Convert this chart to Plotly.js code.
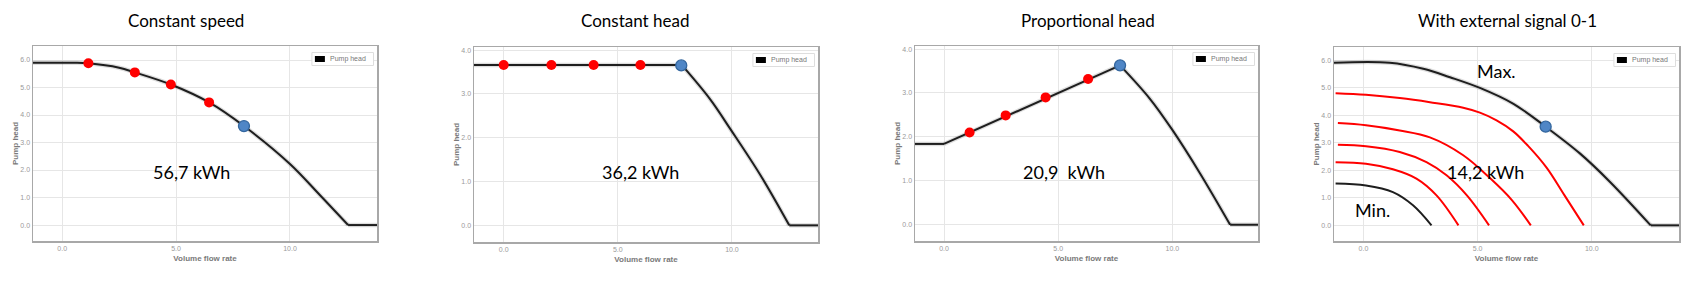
<!DOCTYPE html>
<html>
<head>
<meta charset="utf-8">
<script src="https://cdn.plot.ly/plotly-3.0.1.min.js"></script>
<style>html,body{margin:0;padding:0;background:#fff;}#chart{width:1688px;height:281px;}</style>
</head>
<body>
<div id="chart"></div>
<script>
// ---------- data ----------
const panelTitles = ["Constant speed", "Constant head", "Proportional head", "With external signal 0-1"];
const energyLabels = ["56,7 kWh", "36,2 kWh", "20,9  kWh", "14,2 kWh"];
const seriesName = "Pump head";
const xTitle = "Volume flow rate";
const yTitle = "Pump head";
const xTicks = [0, 5, 10];

// Panel 1: constant speed
const speedFlow = [-1.28, 0.5, 1.15, 2.5, 3.19, 4.77, 6.45, 7.98, 10.0, 11.3, 12.55, 13.82];
const speedHead = [5.9, 5.9, 5.88, 5.72, 5.55, 5.11, 4.46, 3.6, 2.22, 1.1, 0, 0];
const speedOpFlow = [1.15, 3.19, 4.77, 6.45];
const speedOpHead = [5.88, 5.55, 5.11, 4.46];
const speedDutyFlow = [7.98];
const speedDutyHead = [3.6];

// Panel 2: constant head
const constFlow = [-1.3, 7.8, 9.04, 9.94, 11.23, 12.51, 13.77];
const constHead = [3.66, 3.66, 2.88, 2.19, 1.16, 0, 0];
const constOpFlow = [0, 2.09, 3.94, 5.99];
const constOpHead = [3.66, 3.66, 3.66, 3.66];
const constDutyFlow = [7.78];
const constDutyHead = [3.65];

// Panel 3: proportional head
const propFlow = [-1.27, 0, 7.71, 9.0, 10.0, 11.2, 12.53, 13.75];
const propHead = [1.84, 1.84, 3.63, 2.88, 2.16, 1.18, 0, 0];
const propOpFlow = [1.12, 2.7, 4.45, 6.31];
const propOpHead = [2.1, 2.49, 2.9, 3.32];
const propDutyFlow = [7.71];
const propDutyHead = [3.63];

// Panel 4: external signal
const maxFlow = [-1.29, 1.15, 2.62, 3.79, 5.1, 6.57, 7.98, 9.49, 10.8, 12.58, 13.82];
const maxHead = [5.92, 5.92, 5.7, 5.39, 5.0, 4.42, 3.59, 2.61, 1.58, 0, 0];
const sig1Flow = [-1.22, 0.11, 1.59, 2.91, 4.37, 5.1, 5.83, 6.56, 7.2, 8.02, 8.8, 9.65];
const sig1Head = [4.81, 4.75, 4.63, 4.48, 4.28, 4.1, 3.82, 3.42, 2.9, 2.1, 1.1, 0];
const sig2Flow = [-1.12, 0.11, 1.59, 2.91, 4.37, 5.54, 6.5, 7.33];
const sig2Head = [3.72, 3.64, 3.45, 3.2, 2.55, 1.72, 0.92, 0];
const sig3Flow = [-1.12, 0.11, 1.59, 2.76, 3.64, 4.53, 5.5];
const sig3Head = [2.93, 2.88, 2.67, 2.3, 1.82, 1.09, 0];
const sig4Flow = [-1.22, 0.11, 1.29, 2.32, 3.2, 4.16];
const sig4Head = [2.30, 2.24, 2.04, 1.70, 1.09, 0];
const minFlow = [-1.22, 0.11, 1.29, 2.17, 2.98];
const minHead = [1.52, 1.45, 1.21, 0.73, 0];
const ext4DutyFlow = [7.98];
const ext4DutyHead = [3.59];

// indices where a curve has a sharp corner (segments between them are drawn separately)
const speedCorners = [10];
const constCorners = [1, 5];
const propCorners = [1, 2, 6];
const maxCorners = [9];

// ---------- layout helpers ----------
const W = 1688, H = 281;
const px = v => v / W;
const py = v => 1 - v / H;

// plot frames in pixels: [left, right, top, bottom]
const frames = [[33, 377, 46, 241], [474, 818, 47, 242], [915, 1258, 46, 241], [1334, 1679, 47, 241]];
const xRanges = [[-1.28, 13.82], [-1.30, 13.77], [-1.27, 13.75], [-1.29, 13.82]];
const yRanges = [[-0.58, 6.51], [-0.38, 4.07], [-0.37, 4.07], [-0.57, 6.49]];
const titlePos = [[186.3, 21], [635.3, 21], [1088, 21], [1507.7, 21]];
const energyPos = [[191.3, 172], [640, 172], [1064, 172], [1485.7, 172]];

const BLACK = "#1e1e1e", RED = "#ff0000", BLUE = "#4f86c6", BLUE_EDGE = "#34679f";

function axName(i) { return i === 0 ? "" : String(i + 1); }

// draw one series as smooth pieces split at its corners
function curve(x, y, i, color, width, shadow, corners) {
  const ax = axName(i);
  const cuts = [0].concat(corners || []).concat([x.length - 1]);
  const out = [];
  const layers = shadow ? ["shadow", "main"] : ["main"];
  layers.forEach(layer => {
    for (let k = 0; k < cuts.length - 1; k++) {
      const xs = x.slice(cuts[k], cuts[k + 1] + 1);
      const ys = y.slice(cuts[k], cuts[k + 1] + 1);
      const shape = xs.length > 2 ? "spline" : "linear";
      out.push({x: xs, y: ys, xaxis: "x" + ax, yaxis: "y" + ax, type: "scatter", mode: "lines",
        name: seriesName, hoverinfo: layer === "shadow" ? "skip" : "x+y",
        line: layer === "shadow"
          ? {color: "rgba(0,0,0,0.13)", width: 4.5, shape: shape, smoothing: 1}
          : {color: color, width: width, shape: shape, smoothing: 1},
        showlegend: false});
    }
  });
  return out;
}
function pts(x, y, i, color, size, edge) {
  const ax = axName(i);
  return {x: x, y: y, xaxis: "x" + ax, yaxis: "y" + ax, type: "scatter", mode: "markers",
    marker: {color: color, size: size, line: {color: edge || color, width: edge ? 1.3 : 0}}, showlegend: false};
}

let data = [];
data = data.concat(curve(speedFlow, speedHead, 0, BLACK, 2, true, speedCorners));
data.push(pts(speedOpFlow, speedOpHead, 0, RED, 10));
data.push(pts(speedDutyFlow, speedDutyHead, 0, BLUE, 11, BLUE_EDGE));

data = data.concat(curve(constFlow, constHead, 1, BLACK, 2, true, constCorners));
data.push(pts(constOpFlow, constOpHead, 1, RED, 10));
data.push(pts(constDutyFlow, constDutyHead, 1, BLUE, 11, BLUE_EDGE));

data = data.concat(curve(propFlow, propHead, 2, BLACK, 2, true, propCorners));
data.push(pts(propOpFlow, propOpHead, 2, RED, 10));
data.push(pts(propDutyFlow, propDutyHead, 2, BLUE, 11, BLUE_EDGE));

data = data.concat(curve(maxFlow, maxHead, 3, BLACK, 2, true, maxCorners));
data = data.concat(curve(sig1Flow, sig1Head, 3, RED, 2, false));
data = data.concat(curve(sig2Flow, sig2Head, 3, RED, 2, false));
data = data.concat(curve(sig3Flow, sig3Head, 3, RED, 2, false));
data = data.concat(curve(sig4Flow, sig4Head, 3, RED, 2, false));
data = data.concat(curve(minFlow, minHead, 3, BLACK, 2, false));
data.push(pts(ext4DutyFlow, ext4DutyHead, 3, BLUE, 11, BLUE_EDGE));

const layout = {
  width: W, height: H,
  margin: {l: 0, r: 0, t: 0, b: 0},
  paper_bgcolor: "#fff", plot_bgcolor: "#fff",
  showlegend: false,
  font: {family: "Liberation Sans, Arial, sans-serif"},
  annotations: [], shapes: []
};

const tickFont = {size: 7, color: "#9a9a9a", family: "Liberation Sans, Arial, sans-serif"};
const axTitleFont = {size: 8, color: "#7a7a7a", family: "Liberation Sans, Arial, sans-serif", weight: "bold"};
const bigFont = {family: "Lato, sans-serif", size: 18, color: "#000"};
const titleFont = {family: "Lato, sans-serif", size: 17, color: "#000"};

frames.forEach((f, i) => {
  const ax = axName(i);
  layout["xaxis" + ax] = {
    domain: [px(f[0]), px(f[1])], range: xRanges[i], anchor: "y" + ax,
    tickvals: xTicks, tickformat: ".1f", ticks: "",
    showline: true, mirror: true, linecolor: "#a8a8a8", linewidth: 1.5,
    showgrid: true, gridcolor: "#e6e6e6", gridwidth: 1, zeroline: false,
    tickfont: tickFont, fixedrange: true,
    title: {text: xTitle, font: axTitleFont, standoff: 4}
  };
  layout["yaxis" + ax] = {
    domain: [py(f[3]), py(f[2])], range: yRanges[i], anchor: "x" + ax,
    dtick: 1, tick0: 0, tickformat: ".1f", ticks: "",
    showline: true, mirror: true, linecolor: "#a8a8a8", linewidth: 1.5,
    showgrid: true, gridcolor: "#e6e6e6", gridwidth: 1, zeroline: false,
    tickfont: tickFont, fixedrange: true,
    title: {text: yTitle, font: axTitleFont, standoff: 0}
  };
  layout.annotations.push({text: panelTitles[i], xref: "paper", yref: "paper",
    x: px(titlePos[i][0]), y: py(titlePos[i][1]), xanchor: "center", yanchor: "middle",
    showarrow: false, font: titleFont});
  layout.annotations.push({text: energyLabels[i], xref: "paper", yref: "paper",
    x: px(energyPos[i][0]), y: py(energyPos[i][1]), xanchor: "center", yanchor: "middle",
    showarrow: false, font: bigFont});
  // legend box
  const bx1 = f[1] - 3.5, bx0 = bx1 - 61.6, by0 = f[2] + 6.5, by1 = by0 + 13;
  layout.shapes.push({type: "rect", xref: "paper", yref: "paper", x0: px(bx0), x1: px(bx1), y0: py(by1), y1: py(by0),
    line: {color: "#dedede", width: 1}, fillcolor: "#fff", layer: "above"});
  layout.shapes.push({type: "rect", xref: "paper", yref: "paper", x0: px(bx0 + 3), x1: px(bx0 + 13), y0: py(by0 + 9.5), y1: py(by0 + 3.5),
    line: {color: "#000", width: 0}, fillcolor: "#000", layer: "above"});
  layout.annotations.push({text: seriesName, xref: "paper", yref: "paper",
    x: px(bx0 + 16.5), y: py(by0 + 6.5), xanchor: "left", yanchor: "middle",
    showarrow: false, font: {size: 7, color: "#777", family: "Liberation Sans, Arial, sans-serif"}});
});

layout.annotations.push({text: "Max.", xref: "paper", yref: "paper", x: px(1496.3), y: py(71),
  xanchor: "center", yanchor: "middle", showarrow: false, font: bigFont});
layout.annotations.push({text: "Min.", xref: "paper", yref: "paper", x: px(1372.7), y: py(209.5),
  xanchor: "center", yanchor: "middle", showarrow: false, font: bigFont});

Plotly.newPlot("chart", data, layout, {staticPlot: true, displayModeBar: false});
</script>
</body>
</html>
